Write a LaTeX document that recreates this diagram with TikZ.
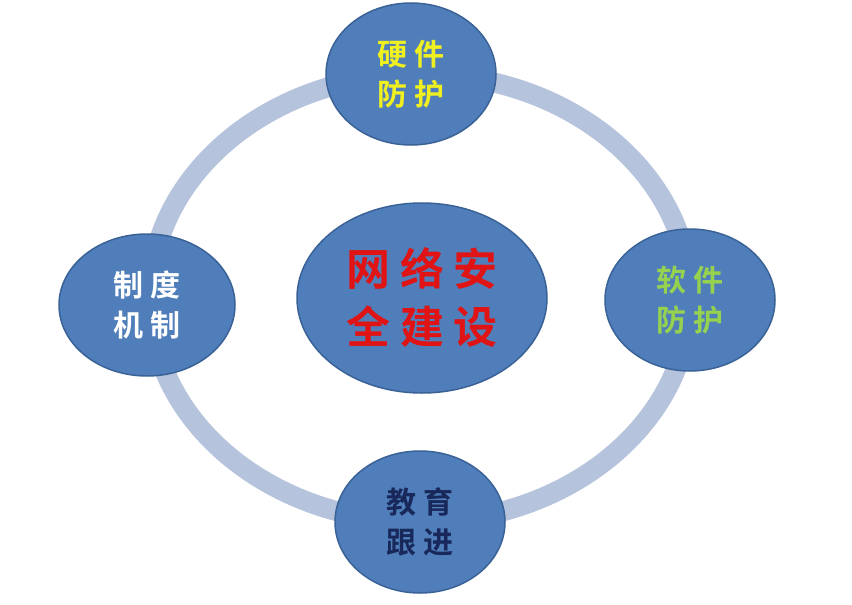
\documentclass[tikz,border=0pt]{standalone}
\usepackage{fontspec}
\newfontfamily\cjk{Noto Sans CJK SC}[BoldFont={* Bold}]
\definecolor{fillb}{HTML}{4F7EBA}
\definecolor{edgeb}{HTML}{3A6296}
\definecolor{ringc}{HTML}{B5C3DC}
\tikzset{sat/.style={ellipse,draw=edgeb,line width=1.5pt,fill=fillb,minimum width=170pt,minimum height=142pt,inner sep=0pt,align=center,font=\cjk\bfseries\fontsize{30}{40}\selectfont}}
\usetikzlibrary{shapes.geometric}
\begin{document}
\begin{tikzpicture}[x=1pt,y=1pt]
\useasboundingbox[fill=white] (0,-605) rectangle (852,0);
\draw[ringc,line width=20pt] (420,-298) ellipse [x radius=270, y radius=224];
\node[sat,fill=fillb,minimum width=250pt,minimum height=190pt,font=\cjk\bfseries\fontsize{44}{58}\selectfont,text={rgb,255:red,224;green,20;blue,20}] (c) at (422,-298) {网 络 安\\全 建 设};
\node[sat,text={rgb,255:red,240;green,240;blue,32}] (t) at (411,-74) {硬 件\\防 护};
\node[sat,text=white,minimum width=176pt] (l) at (147,-305) {制 度\\机 制};
\node[sat,text={rgb,255:red,150;green,210;blue,80}] (r) at (690,-300) {软 件\\防 护};
\node[sat,text={rgb,255:red,25;green,40;blue,90}] (b) at (420,-522) {教 育\\跟 进};
\end{tikzpicture}
\end{document}
